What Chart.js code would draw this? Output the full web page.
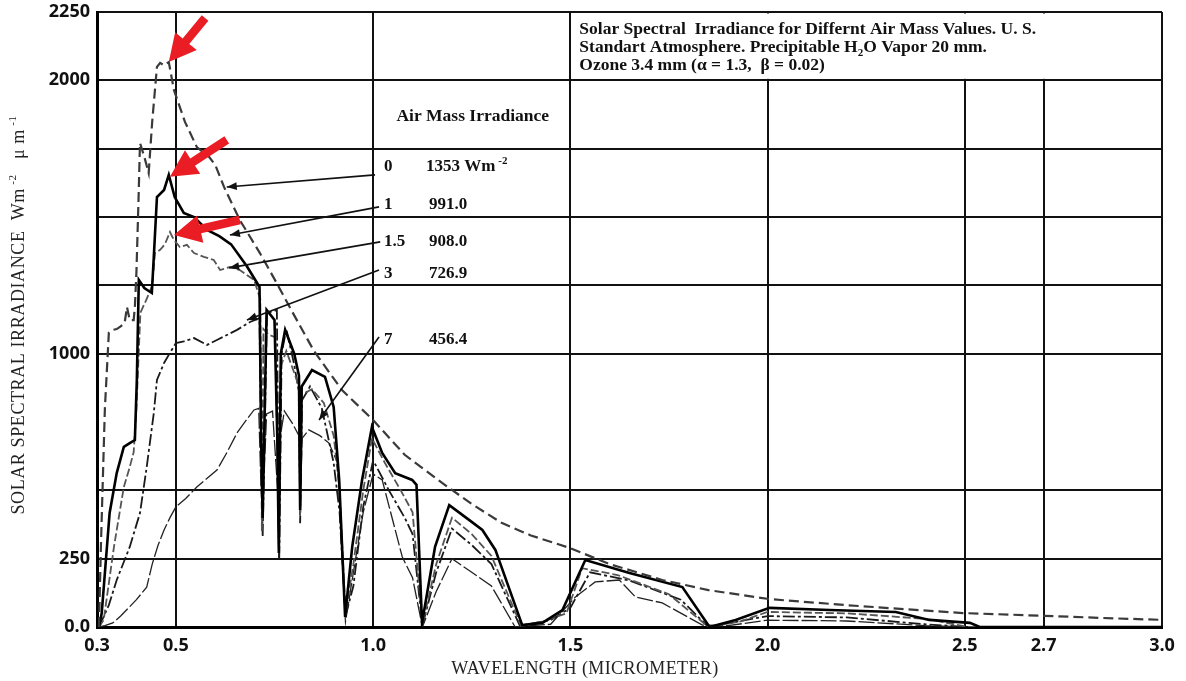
<!DOCTYPE html>
<html>
<head>
<meta charset="utf-8">
<script src="https://cdn.jsdelivr.net/npm/chart.js@4.4.1/dist/chart.umd.min.js"></script>
<style>
  html, body { margin: 0; padding: 0; background: #fff; }
  #wrap { width: 1186px; height: 681px; }
</style>
</head>
<body>
<div id="wrap"><canvas id="solarChart" width="1186" height="681"></canvas></div>
<script>
// Wavelength (micrometer) and irradiance (W m-2 um-1)
const am0Wl = [0.305, 0.31, 0.32, 0.33, 0.34, 0.35, 0.36, 0.37, 0.376, 0.383, 0.393, 0.396, 0.40, 0.405, 0.409, 0.42, 0.431, 0.44, 0.452, 0.46, 0.47, 0.482, 0.495, 0.523, 0.553, 0.584, 0.60, 0.622, 0.662, 0.713, 0.751, 0.80, 0.85, 0.921, 1.0, 1.08, 1.175, 1.25, 1.327, 1.4, 1.497, 1.6, 1.733, 1.85, 2.005, 2.2, 2.35, 2.495, 2.7, 2.85, 3.0];
const am0Irr = [0, 300, 800, 1076, 1087, 1090, 1100, 1112, 1171, 1123, 1123, 1171, 1300, 1550, 1771, 1720, 1661, 1850, 2049, 2064, 2055, 2067, 1965, 1848, 1756, 1720, 1690, 1610, 1489, 1368, 1270, 1140, 1010, 867, 757, 630, 527, 450, 380, 335, 290, 230, 172, 135, 102, 80, 65, 51, 41, 33, 26];

const am1Wl = [0.305, 0.312, 0.332, 0.35, 0.368, 0.383, 0.396, 0.401, 0.406, 0.42, 0.439, 0.444, 0.452, 0.47, 0.482, 0.497, 0.52, 0.546, 0.579, 0.61, 0.64, 0.68, 0.712, 0.716, 0.72, 0.73, 0.75, 0.757, 0.761, 0.766, 0.777, 0.80, 0.812, 0.815, 0.819, 0.845, 0.878, 0.90, 0.914, 0.929, 0.947, 0.972, 0.997, 1.023, 1.056, 1.099, 1.11, 1.124, 1.157, 1.193, 1.244, 1.277, 1.31, 1.378, 1.429, 1.48, 1.538, 1.65, 1.784, 1.853, 1.919, 2.005, 2.157, 2.325, 2.41, 2.513, 2.538, 3.0];
const am1Irr = [0, 51, 417, 563, 659, 673, 684, 904, 1270, 1240, 1222, 1354, 1573, 1599, 1654, 1573, 1515, 1500, 1453, 1430, 1400, 1320, 1244, 700, 399, 1160, 1123, 700, 271, 1000, 1087, 1000, 920, 428, 880, 940, 915, 805, 538, 37, 293, 538, 732, 637, 563, 538, 520, 15, 293, 446, 391, 355, 282, 7, 15, 62, 245, 198, 146, 0, 26, 70, 62, 55, 26, 15, 0, 0];

const am15Wl = [0.305, 0.317, 0.343, 0.368, 0.383, 0.393, 0.40, 0.41, 0.426, 0.44, 0.447, 0.46, 0.472, 0.485, 0.495, 0.51, 0.528, 0.546, 0.571, 0.596, 0.612, 0.637, 0.662, 0.698, 0.714, 0.718, 0.722, 0.735, 0.752, 0.758, 0.761, 0.765, 0.78, 0.80, 0.812, 0.815, 0.819, 0.845, 0.875, 0.90, 0.915, 0.93, 0.95, 0.975, 0.997, 1.03, 1.07, 1.1, 1.125, 1.16, 1.2, 1.25, 1.3, 1.375, 1.43, 1.49, 1.53, 1.62, 1.75, 1.85, 1.93, 2.0, 2.2, 2.4, 2.51, 3.0];
const am15Irr = [0, 26, 293, 512, 585, 640, 800, 1150, 1200, 1250, 1368, 1380, 1400, 1445, 1416, 1390, 1398, 1368, 1354, 1343, 1306, 1317, 1306, 1270, 1200, 350, 1090, 1070, 1060, 600, 290, 950, 1010, 930, 880, 410, 850, 870, 820, 700, 500, 50, 230, 500, 690, 600, 500, 420, 10, 230, 400, 340, 260, 5, 20, 50, 215, 190, 120, 0, 20, 55, 50, 30, 0, 0];

const am3Wl = [0.305, 0.33, 0.35, 0.383, 0.409, 0.426, 0.444, 0.452, 0.47, 0.485, 0.5, 0.52, 0.546, 0.579, 0.604, 0.655, 0.688, 0.712, 0.716, 0.72, 0.731, 0.756, 0.759, 0.762, 0.768, 0.78, 0.80, 0.812, 0.815, 0.82, 0.84, 0.87, 0.90, 0.915, 0.93, 0.95, 0.975, 1.0, 1.04, 1.08, 1.1, 1.125, 1.16, 1.2, 1.25, 1.3, 1.372, 1.45, 1.5, 1.55, 1.65, 1.78, 1.85, 2.0, 2.2, 2.4, 2.51, 3.0];
const am3Irr = [0, 80, 172, 293, 417, 585, 783, 904, 966, 1003, 1039, 1045, 1057, 1032, 1050, 1087, 1116, 1130, 650, 330, 1149, 1160, 700, 250, 1000, 1090, 960, 860, 380, 830, 880, 800, 600, 420, 40, 150, 440, 610, 500, 400, 340, 5, 200, 360, 300, 230, 5, 25, 70, 200, 170, 100, 0, 40, 35, 10, 0, 0];

const am7Wl = [0.305, 0.32, 0.34, 0.36, 0.38, 0.40, 0.426, 0.44, 0.455, 0.47, 0.485, 0.5, 0.525, 0.553, 0.58, 0.604, 0.63, 0.655, 0.68, 0.698, 0.71, 0.716, 0.72, 0.73, 0.745, 0.758, 0.761, 0.765, 0.775, 0.795, 0.812, 0.815, 0.82, 0.837, 0.865, 0.888, 0.91, 0.93, 0.95, 0.975, 1.0, 1.023, 1.074, 1.1, 1.125, 1.16, 1.2, 1.25, 1.3, 1.36, 1.45, 1.513, 1.563, 1.624, 1.665, 1.733, 1.835, 1.9, 2.0, 2.2, 2.4, 2.5, 3.0];
const am7Irr = [0, 5, 15, 40, 70, 100, 146, 230, 300, 355, 400, 439, 470, 512, 545, 574, 640, 710, 760, 794, 800, 500, 430, 780, 790, 500, 250, 700, 790, 746, 700, 420, 690, 721, 700, 673, 600, 20, 200, 420, 560, 538, 256, 180, 0, 130, 250, 200, 150, 0, 10, 110, 165, 172, 110, 88, 7, 5, 25, 22, 5, 0, 0];

const xTickValues = [0.3, 0.5, 1.0, 1.5, 2.0, 2.5, 2.7, 3.0];
const yLabelValues = [0, 250, 1000, 2000, 2250];
const yHiddenGrid = [750];

const airMassNames = ['0', '1', '1.5', '3', '7'];
const airMassTotals = ['1353', '991.0', '908.0', '726.9', '456.4'];

// leader lines from the legend rows to the curves (data units: wavelength, irradiance)
const leaderFrom = [[1.005, 1654], [1.015, 1537], [1.018, 1409], [1.015, 1306], [1.015, 1061]];
const leaderTo = [[0.629, 1610], [0.637, 1434], [0.635, 1314], [0.68, 1123], [0.863, 757]];

// red highlight arrows (tail -> tip)
const redTail = [[0.574, 2228], [0.629, 1782], [0.662, 1489]];
const redTip = [[0.482, 2067], [0.485, 1647], [0.495, 1434]];

const toPoints = (xs, ys) => xs.map((x, i) => ({ x: x, y: ys[i] }));

const serif = '"Liberation Serif", "DejaVu Serif", serif';

// draw text made of pieces: [text, shift] with shift 1 = superscript, -1 = subscript
function drawRich(ctx, parts, x, y, size, weight, align, spacing) {
  const fontFor = p => weight + ' ' + (p[1] ? Math.round(size * 0.62) : size) + 'px ' + serif;
  ctx.letterSpacing = (spacing || 0) + 'px';
  let total = 0;
  const widths = parts.map(p => {
    ctx.font = fontFor(p);
    const w = ctx.measureText(p[0]).width;
    total += w;
    return w;
  });
  let cx = align === 'center' ? x - total / 2 : x;
  ctx.textAlign = 'left';
  ctx.textBaseline = 'alphabetic';
  parts.forEach((p, i) => {
    ctx.font = fontFor(p);
    const dy = p[1] === 1 ? -size * 0.42 : (p[1] === -1 ? size * 0.22 : 0);
    ctx.fillText(p[0], cx, y + dy);
    cx += widths[i];
  });
  ctx.letterSpacing = '0px';
}

function arrowHead(ctx, tx, ty, fx, fy, len, half) {
  const ang = Math.atan2(ty - fy, tx - fx);
  ctx.beginPath();
  ctx.moveTo(tx, ty);
  ctx.lineTo(tx - len * Math.cos(ang) + half * Math.sin(ang), ty - len * Math.sin(ang) - half * Math.cos(ang));
  ctx.lineTo(tx - len * Math.cos(ang) - half * Math.sin(ang), ty - len * Math.sin(ang) + half * Math.cos(ang));
  ctx.closePath();
  ctx.fill();
}

const sheetPlugin = {
  id: 'sheet',
  beforeDatasetsDraw(chart) {
    const { ctx, scales: { x, y } } = chart;
    // the title cell has no inner grid lines
    const l = x.getPixelForValue(1.5), r = x.getPixelForValue(3.0);
    const t = y.getPixelForValue(2250), b = y.getPixelForValue(2000);
    ctx.save();
    ctx.fillStyle = '#fff';
    ctx.fillRect(l + 1.5, t + 1.5, r - l - 3, b - t - 3);
    ctx.restore();
  },
  afterDatasetsDraw(chart) {
    const { ctx, scales: { x, y } } = chart;
    const px = v => x.getPixelForValue(v);
    const py = v => y.getPixelForValue(v);
    ctx.save();
    ctx.fillStyle = '#111';

    // title block
    const tx = px(1.5) + 9;
    const top = py(2250);
    drawRich(ctx, [['Solar Spectral  Irradiance for Differnt Air Mass Values. U. S.', 0]], tx, top + 22, 17.5, 'bold', 'left');
    drawRich(ctx, [['Standart Atmosphere. Precipitable H', 0], ['2', -1], ['O Vapor 20 mm.', 0]], tx, top + 40, 17.5, 'bold', 'left');
    drawRich(ctx, [['Ozone 3.4 mm (\u03b1 = 1.3,  \u03b2 = 0.02)', 0]], tx, top + 58, 17.5, 'bold', 'left');

    // legend table
    const lx = px(1.0);
    drawRich(ctx, [['Air Mass Irradiance', 0]], (px(1.0) + px(1.5)) / 2 + 1, py(1873) + 6, 17.5, 'bold', 'center');
    const rowY = [1690, 1551, 1416, 1299, 1057];
    airMassNames.forEach((name, i) => {
      const yy = py(rowY[i]) + 6;
      drawRich(ctx, [[name, 0]], lx + 11, yy, 17, 'bold', 'left');
      const parts = i === 0 ? [[airMassTotals[i] + ' Wm', 0], [' -2', 1]] : [[airMassTotals[i], 0]];
      drawRich(ctx, parts, lx + (i === 0 ? 53 : 56), yy, 17, 'bold', 'left');
    });

    // leader lines
    ctx.strokeStyle = '#111';
    ctx.lineWidth = 1.6;
    leaderFrom.forEach((f, i) => {
      const x0 = px(f[0]), y0 = py(f[1]);
      const x1 = px(leaderTo[i][0]), y1 = py(leaderTo[i][1]);
      ctx.beginPath();
      ctx.moveTo(x0, y0);
      ctx.lineTo(x1, y1);
      ctx.stroke();
      arrowHead(ctx, x1, y1, x0, y0, 10, 4);
    });

    // red arrows
    ctx.fillStyle = '#ea1d25';
    redTail.forEach((t, i) => {
      const x0 = px(t[0]), y0 = py(t[1]);
      const x1 = px(redTip[i][0]), y1 = py(redTip[i][1]);
      const ang = Math.atan2(y1 - y0, x1 - x0);
      const c = Math.cos(ang), s = Math.sin(ang);
      const hl = 27, hw = 14, sw = 4.3;
      const bx = x1 - hl * c, by = y1 - hl * s;
      ctx.beginPath();
      ctx.moveTo(x0 - sw * s, y0 + sw * c);
      ctx.lineTo(bx - sw * s, by + sw * c);
      ctx.lineTo(bx - hw * s, by + hw * c);
      ctx.lineTo(x1, y1);
      ctx.lineTo(bx + hw * s, by - hw * c);
      ctx.lineTo(bx + sw * s, by - sw * c);
      ctx.lineTo(x0 + sw * s, y0 - sw * c);
      ctx.closePath();
      ctx.fill();
    });

    // axis titles
    ctx.fillStyle = '#222';
    drawRich(ctx, [['WAVELENGTH (MICROMETER)', 0]], 585, 674, 18, 'normal', 'center', 0.4);
    ctx.translate(24, 315);
    ctx.rotate(-Math.PI / 2);
    drawRich(ctx, [['SOLAR SPECTRAL IRRADIANCE  Wm', 0], [' -2', 1], ['   \u03bc m', 0], [' -1', 1]], 0, 0, 18, 'normal', 'center', 0.6);
    ctx.restore();
  }
};

const ctx = document.getElementById('solarChart').getContext('2d');

const solarChart = new Chart(ctx, {
  type: 'scatter',
  data: {
    datasets: [
      {
        label: 'AM 0',
        data: toPoints(am0Wl, am0Irr),
        showLine: true,
        borderColor: '#3a3a3a',
        borderWidth: 2.2,
        borderDash: [10, 5],
        pointRadius: 0
      },
      {
        label: 'AM 1',
        data: toPoints(am1Wl, am1Irr),
        showLine: true,
        borderColor: '#000',
        borderWidth: 2.6,
        pointRadius: 0
      },
      {
        label: 'AM 1.5',
        data: toPoints(am15Wl, am15Irr),
        showLine: true,
        borderColor: '#555',
        borderWidth: 1.8,
        borderDash: [8, 3],
        pointRadius: 0
      },
      {
        label: 'AM 3',
        data: toPoints(am3Wl, am3Irr),
        showLine: true,
        borderColor: '#1a1a1a',
        borderWidth: 1.8,
        borderDash: [12, 3, 3, 3],
        pointRadius: 0
      },
      {
        label: 'AM 7',
        data: toPoints(am7Wl, am7Irr),
        showLine: true,
        borderColor: '#222',
        borderWidth: 1.3,
        borderDash: [16, 3],
        pointRadius: 0
      }
    ]
  },
  options: {
    responsive: false,
    animation: false,
    layout: { padding: { top: 12, right: 24, left: 0, bottom: 0 } },
    plugins: {
      legend: { display: false },
      tooltip: { enabled: false }
    },
    scales: {
      x: {
        type: 'linear',
        min: 0.3,
        max: 3.0,
        afterBuildTicks: scale => { scale.ticks = xTickValues.map(v => ({ value: v })); },
        afterFit: scale => { scale.height = 54; },
        ticks: {
          autoSkip: false,
          maxRotation: 0,
          padding: 8,
          color: '#111',
          font: { family: '"Open Sans", sans-serif', size: 18, weight: 'bold' },
          callback: v => Number(v).toFixed(1)
        },
        grid: { color: '#111', lineWidth: 2, drawTicks: false },
        border: { color: '#000', width: 3 }
      },
      y: {
        min: 0,
        max: 2250,
        afterFit: scale => {
          scale.width = 97;
          scale.paddingTop = 0;
          scale.paddingBottom = 0;
        },
        ticks: {
          stepSize: 250,
          padding: 7,
          color: '#111',
          font: { family: '"Open Sans", sans-serif', size: 18, weight: 'bold' },
          callback: v => yLabelValues.includes(v) ? (v === 0 ? '0.0' : String(v)) : ''
        },
        grid: {
          lineWidth: 2,
          drawTicks: false,
          color: c => yHiddenGrid.includes(c.tick.value) ? 'rgba(0,0,0,0)' : '#111'
        },
        border: { color: '#000', width: 3 }
      }
    }
  },
  plugins: [sheetPlugin]
});
</script>
</body>
</html>
